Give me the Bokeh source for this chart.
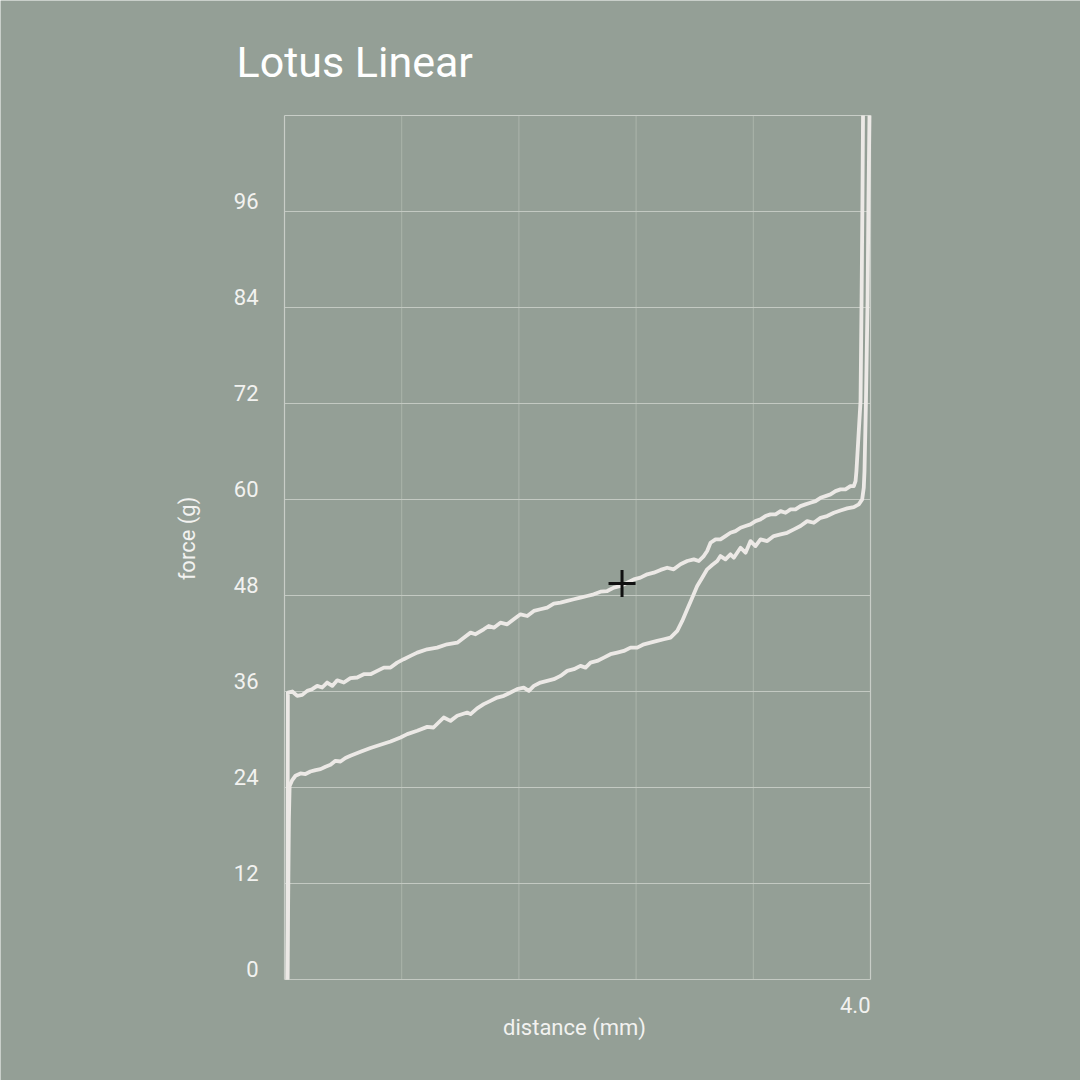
from bokeh.plotting import figure
from bokeh.models import Range1d, Label, LabelSet, ColumnDataSource
from bokeh.core.properties import value
from bokeh.embed import file_html
from bokeh.resources import INLINE
import math

# ---------------- data ----------------
title_text = "Lotus Linear"
x_label = "distance (mm)"
y_label = "force (g)"
y_ticks = [0, 12, 24, 36, 48, 60, 72, 84, 96]
y_tick_labels = ["0", "12", "24", "36", "48", "60", "72", "84", "96"]
x_grid_ticks = [0.0, 0.8, 1.6, 2.4, 3.2, 4.0]
x_min, x_max = 0.0, 4.0
y_min, y_max = 0.0, 108.0
x_tick_value = 4.0
x_tick_label = "4.0"

# downstroke (press)
press_x = [0.020, 0.025, 0.030, 0.035, 0.053, 0.075, 0.109, 0.143, 0.177, 0.212,
           0.246, 0.280, 0.314, 0.348, 0.382, 0.416, 0.450, 0.519, 0.587, 0.655,
           0.724, 0.792, 0.838, 0.906, 0.974, 1.017, 1.087, 1.133, 1.179, 1.247,
           1.270, 1.315, 1.360, 1.406, 1.452, 1.497, 1.543, 1.588, 1.633, 1.668,
           1.702, 1.747, 1.793, 1.838, 1.884, 1.930, 1.975, 2.020, 2.055, 2.089,
           2.134, 2.180, 2.225, 2.271, 2.316, 2.362, 2.408, 2.453, 2.498, 2.544,
           2.589, 2.635, 2.681, 2.715, 2.749, 2.783, 2.817, 2.851, 2.885, 2.919,
           2.954, 2.976, 3.010, 3.044, 3.067, 3.113, 3.147, 3.181, 3.215, 3.249,
           3.295, 3.340, 3.386, 3.431, 3.477, 3.522, 3.568, 3.613, 3.659, 3.704,
           3.750, 3.795, 3.841, 3.886, 3.920, 3.943, 3.954, 3.959, 3.969, 3.980,
           3.986, 3.993]
press_y = [0.0, 10.0, 20.0, 24.2, 24.93, 25.47, 25.76, 25.68, 26.0, 26.18,
           26.3, 26.6, 26.84, 27.34, 27.25, 27.68, 27.96, 28.46, 28.93, 29.34,
           29.75, 30.25, 30.67, 31.09, 31.58, 31.5, 32.75, 32.33, 32.96, 33.37,
           33.17, 33.9, 34.42, 34.83, 35.24, 35.46, 35.87, 36.29, 36.49, 36.08,
           36.7, 37.12, 37.33, 37.54, 37.95, 38.58, 38.79, 39.2, 38.99, 39.61,
           39.82, 40.24, 40.66, 40.86, 41.07, 41.49, 41.49, 41.9, 42.11, 42.32,
           42.53, 42.73, 43.57, 44.82, 46.28, 47.73, 49.19, 50.23, 51.27, 51.81,
           52.31, 52.93, 52.52, 53.14, 52.72, 53.97, 53.35, 54.8, 54.18, 55.02,
           54.8, 55.43, 55.64, 55.84, 56.26, 56.68, 57.3, 57.09, 57.71, 57.93,
           58.34, 58.63, 58.89, 59.05, 59.39, 60.01, 61.46, 63.55, 72.3, 84.8,
           97.25, 108.0]

# upstroke (release)
release_x = [0.020, 0.023, 0.053, 0.087, 0.121, 0.155, 0.189, 0.223, 0.257, 0.291,
             0.326, 0.360, 0.405, 0.450, 0.496, 0.541, 0.587, 0.633, 0.678, 0.724,
             0.769, 0.814, 0.860, 0.906, 0.974, 1.042, 1.110, 1.179, 1.224, 1.270,
             1.304, 1.360, 1.394, 1.429, 1.474, 1.520, 1.565, 1.611, 1.657, 1.702,
             1.747, 1.793, 1.838, 1.884, 1.930, 1.975, 2.020, 2.066, 2.111, 2.157,
             2.203, 2.248, 2.294, 2.339, 2.384, 2.430, 2.476, 2.521, 2.567, 2.612,
             2.657, 2.703, 2.749, 2.794, 2.828, 2.862, 2.885, 2.908, 2.942, 2.976,
             3.010, 3.044, 3.078, 3.113, 3.147, 3.181, 3.215, 3.249, 3.283, 3.317,
             3.352, 3.386, 3.420, 3.454, 3.488, 3.522, 3.556, 3.590, 3.625, 3.659,
             3.693, 3.727, 3.761, 3.795, 3.829, 3.863, 3.886, 3.898, 3.904, 3.932,
             3.939, 3.945, 3.949]
release_y = [0.0, 35.87, 36.0, 35.46, 35.58, 36.08, 36.29, 36.7, 36.5, 37.12,
             36.7, 37.4, 37.12, 37.67, 37.75, 38.16, 38.16, 38.58, 38.99, 38.99,
             39.61, 40.04, 40.45, 40.86, 41.28, 41.49, 41.9, 42.1, 42.73, 43.36,
             43.16, 43.78, 44.19, 43.98, 44.6, 44.4, 45.03, 45.65, 45.44, 46.07,
             46.28, 46.48, 46.98, 47.1, 47.32, 47.53, 47.73, 47.94, 48.15, 48.48,
             48.56, 48.98, 49.19, 49.6, 50.02, 50.23, 50.65, 50.85, 51.2, 51.47,
             51.27, 51.9, 52.31, 52.52, 52.31, 52.93, 53.56, 54.59, 55.02, 55.02,
             55.43, 55.84, 56.05, 56.47, 56.68, 56.89, 57.3, 57.51, 57.93, 58.14,
             58.14, 58.55, 58.34, 58.76, 58.76, 59.17, 59.39, 59.59, 59.8, 60.21,
             60.42, 60.64, 61.05, 61.26, 61.26, 61.67, 61.67, 62.3, 63.55, 72.3,
             84.8, 97.25, 108.0]

marker_x = [2.304]
marker_y = [49.5]

assert len(press_x) == len(press_y), (len(press_x), len(press_y))
assert len(release_x) == len(release_y), (len(release_x), len(release_y))

# ---------------- style ----------------
BG = "#949f96"
CURVE = "#ece9e6"
GRID_H = "#c3c9c2"
GRID_V = "#abb4ab"
EDGE = "#c8cdc7"
TEXT = "#f2f2f0"
FONT = "Roboto"

W, H = 1080, 1080
BOX_L, BOX_T, BOX_W, BOX_H = 284, 115, 586, 864
PX_X = BOX_W / (x_max - x_min)
PX_Y = BOX_H / (y_max - y_min)
xr = Range1d(x_min - BOX_L / PX_X, x_max + (W - BOX_L - BOX_W) / PX_X)
yr = Range1d(y_min - (H - BOX_T - BOX_H) / PX_Y, y_max + BOX_T / PX_Y)

p = figure(width=W, height=H, x_range=xr, y_range=yr,
           output_backend="svg", toolbar_location=None, min_border=0)
p.background_fill_color = BG
p.border_fill_color = BG
p.outline_line_color = None
p.axis.visible = False
p.grid.visible = False

# grid
inner_x = [t for t in x_grid_ticks if x_min < t < x_max]
p.segment(x0=inner_x, y0=[y_min] * len(inner_x), x1=inner_x, y1=[y_max] * len(inner_x),
          line_color=GRID_V, line_width=1)
p.segment(x0=[x_min] * len(y_ticks), y0=y_ticks, x1=[x_max] * len(y_ticks), y1=y_ticks,
          line_color=GRID_H, line_width=1.2)
# box
p.segment(x0=[x_min, x_max, x_min], y0=[y_min, y_min, y_max],
          x1=[x_min, x_max, x_max], y1=[y_max, y_max, y_max],
          line_color=EDGE, line_width=1.2)

p.line(press_x, press_y, line_color=CURVE, line_width=3.8, line_join="round")
p.line(release_x, release_y, line_color=CURVE, line_width=3.8, line_join="round")
p.scatter(marker_x, marker_y, marker="cross", size=27, line_color="#111111", line_width=3)

# y tick labels
ysrc = ColumnDataSource(dict(x=[x_min] * len(y_ticks), y=y_ticks, t=y_tick_labels))
p.add_layout(LabelSet(x="x", y="y", text="t", source=ysrc, x_offset=-26, y_offset=3,
                      text_align="right", text_baseline="alphabetic",
                      text_font=value(FONT), text_font_size=value("22px"),
                      text_color=value(TEXT)))
# x tick label
p.add_layout(Label(x=x_tick_value, y=y_min, text=x_tick_label, x_offset=0, y_offset=-25,
                   text_align="right", text_baseline="alphabetic",
                   text_font=FONT, text_font_size="22px", text_color=TEXT))
# axis titles
p.add_layout(Label(x=(x_min + x_max) / 2, y=y_min, x_offset=-3, y_offset=-48,
                   text=x_label, text_align="center", text_baseline="alphabetic",
                   text_font=FONT, text_font_size="22px", text_color=TEXT))
p.add_layout(Label(x=x_min, y=(y_min + y_max) / 2, x_offset=-97, y_offset=9,
                   text=y_label, angle=math.pi / 2, text_align="center", text_baseline="middle",
                   text_font=FONT, text_font_size="22px", text_color=TEXT))
# title
p.add_layout(Label(x=236, y=H - 61, x_units="screen", y_units="screen",
                   text=title_text, text_align="left", text_baseline="alphabetic",
                   text_font=FONT, text_font_size="43px", text_color="#ffffff"))

open("out.html", "w").write(file_html(p, INLINE))
